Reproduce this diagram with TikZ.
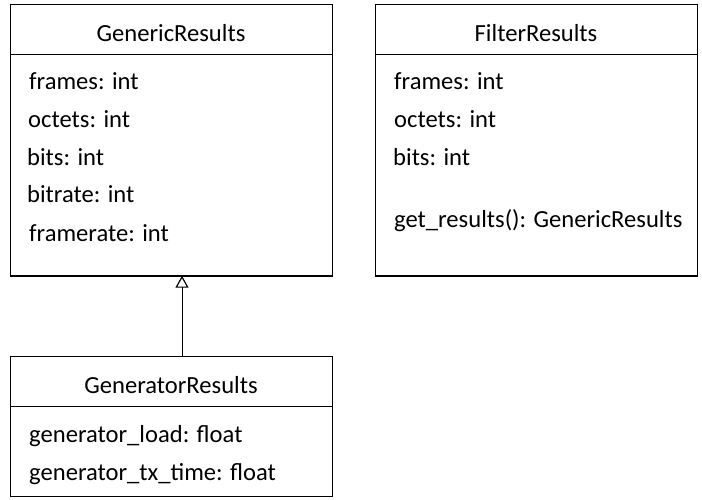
\documentclass[tikz,border=0pt]{standalone}
\usepackage{fontspec}
\setmainfont{Carlito}
\usetikzlibrary{arrows.meta}
\begin{document}
\begin{tikzpicture}[x=1pt,y=-1pt,
  classbox/.style={draw=black,line width=1.2pt,fill=white},
  sepline/.style={draw=black,line width=0.9pt},
  baseline/.style={draw=black,line width=2.6pt},
  member/.style={anchor=base west,inner sep=0pt,font=\fontsize{24.6}{28}\selectfont},
  title/.style={anchor=base,inner sep=0pt,font=\fontsize{24.6}{28}\selectfont},
  inherit/.style={draw=black,line width=1pt,-{Triangle[open,length=12pt,width=13pt,line width=1.2pt]}}]
\useasboundingbox (0,0) rectangle (702,500);

% GenericResults
\node[classbox,minimum width=322pt,minimum height=272pt,anchor=north west,inner sep=0pt] (gen) at (10,4) {};
\draw[baseline] (10,276) -- (332,276);
\draw[sepline] (10,54) -- (332,54);
\node[title] (genT) at (171,42) {GenericResults};
\node[member] (g1) at (29,90) {frames: int};
\node[member] (g2) at (28,128) {octets: int};
\node[member] (g3) at (27,166) {bits: int};
\node[member] (g4) at (27,203) {bitrate: int};
\node[member] (g5) at (29,241) {framerate: int};

% FilterResults
\node[classbox,minimum width=322pt,minimum height=272pt,anchor=north west,inner sep=0pt] (fil) at (375,4) {};
\draw[baseline] (375,276) -- (697,276);
\draw[sepline] (375,54) -- (697,54);
\node[title] (filT) at (536,42) {FilterResults};
\node[member] (f1) at (394,90) {frames: int};
\node[member] (f2) at (394,128) {octets: int};
\node[member] (f3) at (393,166) {bits: int};
\node[member] (f4) at (394,227) {get\_results(): GenericResults};

% GeneratorResults
\node[classbox,minimum width=322pt,minimum height=140pt,anchor=north west,inner sep=0pt] (gr) at (10,356) {};
\draw[sepline] (10,406) -- (332,406);
\node[title] (grT) at (171,393) {GeneratorResults};
\node[member] (r1) at (29,442) {generator\_load: float};
\node[member] (r2) at (29,480) {generator\_tx\_time: float};

% inheritance
\draw[inherit] (gr.north -| 182,0) -- ([yshift=1.5pt]gen.south -| 182,0);
\end{tikzpicture}
\end{document}
